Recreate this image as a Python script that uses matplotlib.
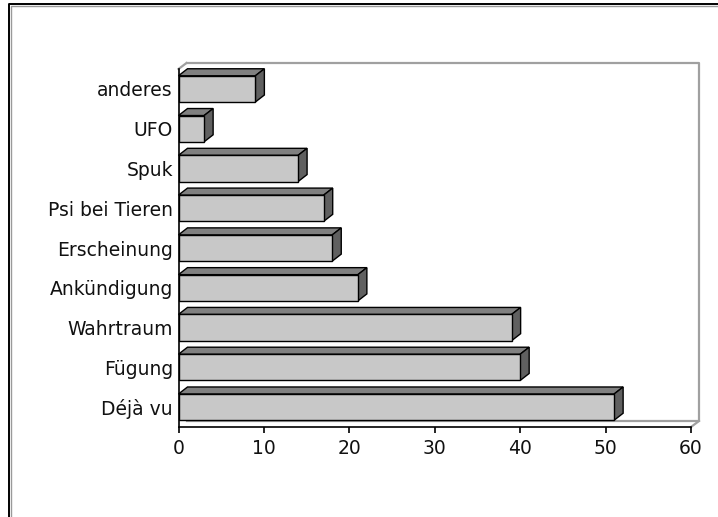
import matplotlib.pyplot as plt
from matplotlib.patches import Polygon, Rectangle
from matplotlib.lines import Line2D

categories = ["Déjà vu", "Fügung", "Wahrtraum", "Ankündigung", "Erscheinung",
              "Psi bei Tieren", "Spuk", "UFO", "anderes"]
values = [51, 40, 39, 21, 18, 17, 14, 3, 9]
x_ticks = [0, 10, 20, 30, 40, 50, 60]

W, H = 718, 517
fig = plt.figure(figsize=(W / 100, H / 100), dpi=100)

# front plane of the plot box, in pixels
left, right, bottom, top = 178.5, 691, 427, 69
ax = fig.add_axes([left / W, (H - bottom) / H, (right - left) / W, (bottom - top) / H])
xmax = x_ticks[-1]
n = len(categories)
ax.set_xlim(0, xmax)
ax.set_ylim(-0.5, n - 0.5)

# data units per pixel, used for the fake 3D depth
px_x = xmax / (right - left)
px_y = n / (bottom - top)

# back wall and floor outline
wdx, wdy = 8 * px_x, 6 * px_y
wall_kw = dict(color='#a0a0a0', lw=1.6, clip_on=False, zorder=1)
ax.plot([0, wdx], [n - 0.5, n - 0.5 + wdy], **wall_kw)
ax.plot([wdx, xmax + wdx, xmax + wdx, wdx],
        [n - 0.5 + wdy, n - 0.5 + wdy, -0.5 + wdy, -0.5 + wdy], **wall_kw)
ax.plot([xmax, xmax + wdx], [-0.5, -0.5 + wdy], **wall_kw)

# 3D style bars: top face, right side, front face
bar_h = 0.66
bdx, bdy = 9 * px_x, 7 * px_y
edge = dict(ec='black', lw=1.0, clip_on=False, joinstyle='miter')
for i, v in enumerate(values):
    y0, y1 = i - bar_h / 2, i + bar_h / 2
    ax.add_patch(Polygon([(0, y1), (bdx, y1 + bdy), (v + bdx, y1 + bdy), (v, y1)],
                         fc='#808080', zorder=3, **edge))
    ax.add_patch(Polygon([(v, y0), (v, y1), (v + bdx, y1 + bdy), (v + bdx, y0 + bdy)],
                         fc='#606060', zorder=3, **edge))
    ax.add_patch(Rectangle((0, y0), v, bar_h, fc='#c8c8c8', zorder=4, **edge))

for side in ['top', 'right']:
    ax.spines[side].set_visible(False)
for side in ['left', 'bottom']:
    ax.spines[side].set_color('black')
    ax.spines[side].set_linewidth(1.2)
    ax.spines[side].set_zorder(5)

ax.set_xticks(x_ticks)
ax.set_xticklabels([str(t) for t in x_ticks])
ax.set_yticks(range(n))
ax.set_yticklabels(categories)
ax.tick_params(axis='x', direction='out', length=4, width=1.2, color='black',
               labelsize=13.5, pad=5)
ax.tick_params(axis='y', length=0, labelsize=13.5, pad=4)
for lab in ax.get_xticklabels() + ax.get_yticklabels():
    lab.set_color('#111111')

# outer frame around the chart (left and top edges only)
fx, fy = 9 / W, 1 - 4 / H
fig.add_artist(Line2D([fx, fx, 1], [0, fy, fy], transform=fig.transFigure,
                      color='black', lw=1.4))
fig.add_artist(Line2D([fx + 1.6 / W, fx + 1.6 / W, 1], [0, fy - 1.6 / H, fy - 1.6 / H],
                      transform=fig.transFigure, color='#9a9a9a', lw=1.0))

fig.savefig('out.png', dpi=100)
